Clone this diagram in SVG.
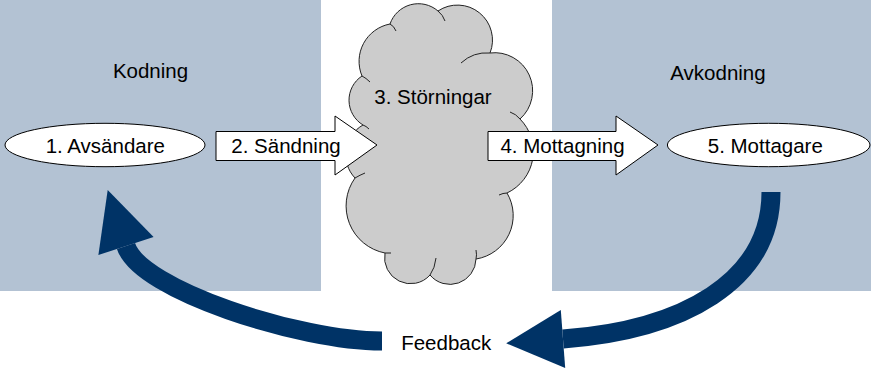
<svg xmlns="http://www.w3.org/2000/svg" width="871" height="375" viewBox="0 0 871 375">
<defs>
<style>
.panel{fill:#B3C2D3;}
.box{fill:#FFFFFF;stroke:#000000;stroke-width:1;}
.cloud{fill:#CCCCCC;stroke:#222222;stroke-width:1;}
.seam{fill:none;stroke:#222222;stroke-width:1;}
.band{fill:none;stroke:#003366;stroke-width:19;stroke-linecap:butt;}
.head{fill:#003366;}
text{font-family:"Liberation Sans",Arial,sans-serif;font-size:20.5px;fill:#000000;text-anchor:middle;}
</style>
</defs>
<rect class="panel" x="0" y="0" width="321" height="291"/>
<rect class="panel" x="552" y="0" width="319" height="291"/>
<g id="label-kodning"><text x="150.5" y="77.5">Kodning</text></g>
<g id="label-avkodning"><text x="718" y="79.5">Avkodning</text></g>
<g id="node3">
<path class="cloud" d="M 390 24 A 30 30 0 0 1 438 11 A 35 35 0 0 1 490 53 A 38 38 0 0 1 520 119 A 46 46 0 0 1 507 193 A 44 44 0 0 1 476 259 A 26 26 0 0 1 430 275 A 26 26 0 0 1 385 253 A 48 48 0 0 1 355 178 A 34 34 0 0 1 363 125 A 29 29 0 0 1 362 76 A 38 38 0 0 1 390 24 Z"/>
<path class="seam" d="M 390 24 Q 394 26 396 31 M 438 11 Q 443 15 445 21 M 461 63 A 38 38 0 0 1 490 53 M 510 112 Q 516 114 520 119 M 499 195 Q 503 193 507 193 M 476 250 Q 477 255 476 259 M 436 258 Q 435 268 430 275 M 385 253 L 391 253 M 355 178 Q 360 175 365 173 M 363 125 Q 366 126 369 129 M 362 76 Q 366 78 370 82"/>
<text x="433" y="103.5">3. Störningar</text>
</g>
<g id="node2">
<path class="box" d="M 216 131.5 L 335 131.5 L 335 116 L 377 145 L 335 175 L 335 160.5 L 216 160.5 Z"/>
<text x="286" y="152.5">2. Sändning</text>
</g>
<g id="node4">
<path class="box" d="M 488 131.5 L 616 131.5 L 616 116 L 658 145 L 616 175 L 616 160.5 L 488 160.5 Z"/>
<text x="562.5" y="152.5">4. Mottagning</text>
</g>
<g id="node1">
<ellipse class="box" cx="105" cy="145" rx="100" ry="21.7"/>
<text x="105.3" y="152.5">1. Avsändare</text>
</g>
<g id="node5">
<ellipse class="box" cx="768.7" cy="145" rx="101.3" ry="21.7"/>
<text x="765.3" y="152.5">5. Mottagare</text>
</g>
<g id="feedback-label"><text x="446.2" y="349.5">Feedback</text></g>
<g id="connectors">
<path class="band" d="M 382 341 C 300 341 140 290 126 246"/>
<polygon class="head" points="153.6,237 98.4,255 107.7,190"/>
<path class="band" d="M 771 192 C 771 282 682.6 329.9 563 339"/>
<polygon class="head" points="565.2,367.9 560.8,310.1 506.2,343.3"/>
</g>
</svg>
